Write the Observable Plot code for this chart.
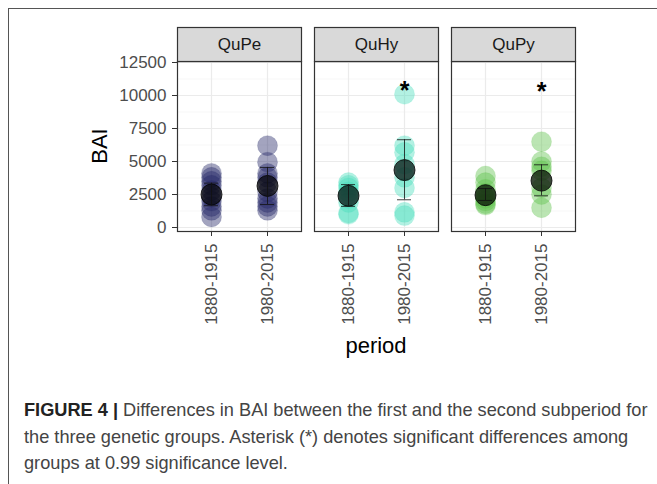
<!DOCTYPE html>
<html>
<head>
<meta charset="utf-8">
<script src="https://cdn.jsdelivr.net/npm/d3@7"></script>
<script src="https://cdn.jsdelivr.net/npm/@observablehq/plot@0.6"></script>
<style>
  body { margin: 0; background: white; }
  #wrap { position: relative; width: 657px; height: 484px; overflow: hidden; background: white; font-family: "Liberation Sans", Arial, sans-serif; }
  #frameBox { position: absolute; left: 8px; top: 8px; width: 700px; height: 520px; border-left: 1.3px solid #555; border-top: 1.3px solid #555; }
  #chart { position: absolute; left: 0; top: 0; }
  #ylab { position: absolute; left: 100px; top: 146px; transform: translate(-50%, -50%) rotate(-90deg); font-size: 22px; color: #000; white-space: nowrap; }
  #xlab { position: absolute; left: 376px; top: 346px; transform: translate(-50%, -50%); font-size: 22px; color: #000; white-space: nowrap; }
  #caption { position: absolute; left: 24px; top: 397px; font-size: 18.2px; line-height: 26.5px; color: #444; white-space: nowrap; }
  #caption b { color: #222; }
</style>
</head>
<body>
<div id="wrap">
  <div id="frameBox"></div>
  <div id="chart"></div>
  <div id="ylab">BAI</div>
  <div id="xlab">period</div>
  <div id="caption">
    <div><b>FIGURE 4 |</b> Differences in BAI between the first and the second subperiod for</div>
    <div>the three genetic groups. Asterisk (*) denotes significant differences among</div>
    <div>groups at 0.99 significance level.</div>
  </div>
</div>
<script>
// ---- data ----
const groups = ["QuPe", "QuHy", "QuPy"];
const periods = ["1880-1915", "1980-2015"];
const groupColors = ["#232766", "#4ADDBD", "#5DC24B"];
const yTicks = [0, 2500, 5000, 7500, 10000, 12500];
const yMinorTicks = [1250, 3750, 6250, 8750, 11250];

const quPe1880 = [4100, 3800, 3500, 3200, 2800, 2300, 2000, 1600, 1300, 800];
const quPe1980 = [6200, 4950, 4100, 3800, 3400, 2700, 2200, 1900, 1600, 1300];
const quHy1880 = [3400, 3200, 3000, 2700, 2500, 2200, 1900, 1100, 1000];
const quHy1980 = [10100, 6200, 5700, 4800, 4300, 3800, 3000, 1150, 900];
const quPy1880 = [3900, 3400, 2900, 2600, 2400, 2200, 2000, 1800, 1700];
const quPy1980 = [6500, 5000, 4600, 4300, 3600, 3000, 2500, 1500];

// summary per (group, period): QuPe-1880, QuPe-1980, QuHy-1880, QuHy-1980, QuPy-1880, QuPy-1980
const meanValues = [2500, 3150, 2400, 4350, 2450, 3550];
const errLow     = [1650, 1740, 1600, 2100, 2050, 2400];
const errHigh    = [3360, 4550, 3250, 6650, 2950, 4750];

const starGroups = ["QuHy", "QuPy"];
const starPeriods = ["1980-2015", "1980-2015"];
const starValues = [10320, 10270];

// ---- build tables ----
const series = [[quPe1880, quPe1980], [quHy1880, quHy1980], [quPy1880, quPy1980]];
const points = [];
groups.forEach((g, gi) => periods.forEach((p, pi) => series[gi][pi].forEach(v => points.push({group: g, period: p, bai: v}))));
const summary = [];
groups.forEach((g, gi) => periods.forEach((p, pi) => {
  const k = gi * 2 + pi;
  summary.push({group: g, period: p, mean: meanValues[k], lo: errLow[k], hi: errHigh[k]});
}));
const stars = starGroups.map((g, i) => ({group: g, period: starPeriods[i], bai: starValues[i]}));

const plotH = 360, mTop = 61, mBottom = 129;
const panelH = plotH - mTop - mBottom;

const chart = Plot.plot({
  width: 657,
  height: plotH,
  marginLeft: 176,
  marginRight: 80,
  marginTop: mTop,
  marginBottom: mBottom,
  style: {fontFamily: "'Liberation Sans', Arial, sans-serif", fontSize: "17px", color: "#4D4D4D", background: "transparent"},
  fx: {domain: groups, paddingInner: 0.094, paddingOuter: 0, axis: null, label: null},
  x: {type: "band", domain: periods, paddingInner: 0.7535, paddingOuter: 0.4768, label: null},
  y: {domain: [-303, 12576], label: null},
  color: {domain: groups, range: groupColors},
  marks: [
    Plot.frame({fill: "white"}),
    Plot.ruleY(yMinorTicks, {stroke: "#F3F3F3", strokeWidth: 0.7}),
    Plot.gridY(yTicks, {stroke: "#EBEBEB", strokeOpacity: 1, strokeWidth: 1.2}),
    Plot.gridX(periods, {stroke: "#EBEBEB", strokeOpacity: 1, strokeWidth: 1.2}),
    Plot.dot(points, {fx: "group", x: "period", y: "bai", r: 10, fill: "group", fillOpacity: 0.42, stroke: "group", strokeOpacity: 0.25, strokeWidth: 0.6}),
    Plot.dot(summary, {fx: "group", x: "period", y: "mean", r: 10.5, fill: "black", fillOpacity: 0.68, stroke: "black", strokeWidth: 0.8}),
    Plot.ruleX(summary, {fx: "group", x: "period", y1: "lo", y2: "hi", stroke: "#111", strokeWidth: 0.8}),
    Plot.tickY(summary, {fx: "group", x: "period", y: "lo", stroke: "#111", strokeWidth: 0.8}),
    Plot.tickY(summary, {fx: "group", x: "period", y: "hi", stroke: "#111", strokeWidth: 0.8}),
    Plot.text(stars, {fx: "group", x: "period", y: "bai", text: () => "*", fontSize: 25, fontWeight: "bold", fill: "black"}),
    Plot.frame({stroke: "#333", strokeWidth: 1.2}),
    Plot.frame({fill: "#D9D9D9", stroke: "#333", strokeWidth: 1.2, insetTop: -34, insetBottom: panelH}),
    Plot.text(groups, {fx: d => d, text: d => d, frameAnchor: "top", dy: -17, lineAnchor: "middle", fill: "#1A1A1A", fontSize: 17}),
    Plot.axisY(yTicks, {tickSize: 5, tickPadding: 6, tickFormat: d => String(d), label: null, stroke: "#333", fill: "#4D4D4D"}),
    Plot.axisX({tickRotate: -90, tickSize: 5, tickPadding: 7, label: null, stroke: "#333", fill: "#4D4D4D"})
  ]
});
document.getElementById("chart").appendChild(chart);
</script>
</body>
</html>
